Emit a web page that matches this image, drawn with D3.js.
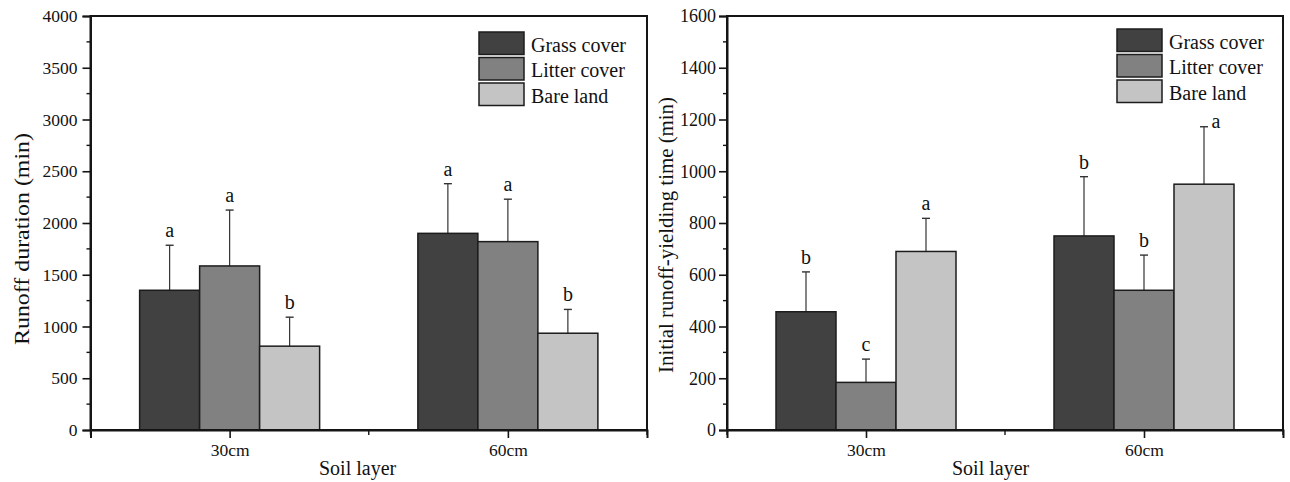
<!DOCTYPE html>
<html>
<head>
<meta charset="utf-8">
<script src="https://cdn.jsdelivr.net/npm/d3@7"></script>
<style>
  html, body { margin: 0; padding: 0; background: #fff; }
  svg { display: block; }
  text { font-family: "Liberation Serif", "Times New Roman", serif; fill: #111; }
</style>
</head>
<body>
<svg id="chart" width="1290" height="482"></svg>
<script>
// ---------------- data ----------------
const categories = ["30cm", "60cm"];
const seriesNames = ["Grass cover", "Litter cover", "Bare land"];
const seriesColors = ["#414141", "#818181", "#c4c4c4"];

// Runoff duration (min): per series, per soil layer
const durationMeans = [[1350, 1900], [1585, 1820], [810, 935]];
const durationErr   = [[435, 480],   [540, 410],   [280, 230]];
const durationLetters = [["a", "a"], ["a", "a"], ["b", "b"]];
const durationTicks = [0, 500, 1000, 1500, 2000, 2500, 3000, 3500, 4000];

// Initial runoff-yielding time (min)
const initMeans = [[457, 750], [184, 540], [690, 950]];
const initErr   = [[154, 229], [90, 136],  [128, 222]];
const initLetters = [["b", "b"], ["c", "b"], ["a", "a"]];
const initTicks = [0, 200, 400, 600, 800, 1000, 1200, 1400, 1600];

// ---------------- layout ----------------
const svg = d3.select("#chart");
const panels = [
  { x0: 90.5, x1: 647, y0: 16, y1: 430, ymax: 4000, ticks: durationTicks, minorStep: 250,
    means: durationMeans, errs: durationErr, letters: durationLetters,
    yTitle: "Runoff duration (min)", yTitleX: 29, yTitleY: 239, yTitleLen: 212,
    tickFont: 17.5, tickDx: 11,
    legendX: 479, legendY: 32, xTitleX: 319 },
  { x0: 727, x1: 1283, y0: 16, y1: 430, ymax: 1600, ticks: initTicks, minorStep: 100,
    means: initMeans, errs: initErr, letters: initLetters,
    yTitle: "Initial runoff-yielding time (min)", yTitleX: 673, yTitleY: 235, yTitleLen: 276,
    tickFont: 18, tickDx: 9,
    legendX: 1117, legendY: 29, xTitleX: 952 }
];

const axisColor = "#151515";
const barW = 60;

panels.forEach((p, pi) => {
  const g = svg.append("g");
  const x = d3.scaleLinear().domain([0.5, 2.5]).range([p.x0, p.x1]);
  const y = d3.scaleLinear().domain([0, p.ymax]).range([p.y1, p.y0]);

  // bars
  seriesNames.forEach((s, j) => {
    categories.forEach((c, i) => {
      const cx = x(i + 1);
      const left = cx + (j - 1.5) * barW;
      const v = p.means[j][i];
      const top = p.means[j][i] + p.errs[j][i];
      const bx = left + barW / 2;
      // error bar (upper)
      g.append("line").attr("x1", bx).attr("x2", bx)
        .attr("y1", y(v)).attr("y2", y(top))
        .attr("stroke", "#333").attr("stroke-width", 1.2);
      g.append("line").attr("x1", bx - 4).attr("x2", bx + 4)
        .attr("y1", y(top)).attr("y2", y(top))
        .attr("stroke", "#333").attr("stroke-width", 1.4);
      g.append("rect")
        .attr("x", left).attr("y", y(v))
        .attr("width", barW).attr("height", y(0) - y(v))
        .attr("fill", seriesColors[j])
        .attr("stroke", "#1c1c1c").attr("stroke-width", 1.5);
      // significance letter
      let lx = bx, ly = y(top) - 8;
      // the last letter of the right panel sits beside its cap (legend above)
      if (pi === 1 && j === 2 && i === 1) { lx = bx + 12; ly = y(top) + 1; }
      g.append("text").attr("x", lx).attr("y", ly)
        .attr("text-anchor", "middle").attr("font-size", 20)
        .text(p.letters[j][i]);
    });
  });

  // frame
  g.append("rect").attr("x", p.x0).attr("y", p.y0)
    .attr("width", p.x1 - p.x0).attr("height", p.y1 - p.y0)
    .attr("fill", "none").attr("stroke", axisColor).attr("stroke-width", 2);

  // y axis
  const yAxis = d3.axisLeft(y).tickValues(p.ticks).tickSize(8).tickPadding(p.tickDx - 8 + 2)
    .tickFormat(d3.format("d"));
  const ya = g.append("g").attr("transform", `translate(${p.x0},0)`).call(yAxis);
  ya.select(".domain").attr("stroke", axisColor).attr("stroke-width", 2);
  ya.selectAll(".tick line").attr("stroke", axisColor).attr("stroke-width", 1.6);
  ya.selectAll(".tick text").attr("font-size", p.tickFont)
    .attr("font-family", "Liberation Serif").attr("fill", "#111");
  // y minor ticks
  const minor = d3.range(p.minorStep, p.ymax, p.minorStep * 2);
  g.selectAll(null).data(minor).enter().append("line")
    .attr("x1", p.x0 - 4).attr("x2", p.x0)
    .attr("y1", d => y(d)).attr("y2", d => y(d))
    .attr("stroke", axisColor).attr("stroke-width", 1.4);

  // x axis
  const xAxis = d3.axisBottom(x).tickValues([1, 2]).tickSize(8).tickPadding(6)
    .tickFormat(d => categories[d - 1]);
  const xa = g.append("g").attr("transform", `translate(0,${p.y1})`).call(xAxis);
  xa.select(".domain").attr("stroke", axisColor).attr("stroke-width", 2);
  xa.selectAll(".tick line").attr("stroke", axisColor).attr("stroke-width", 1.6);
  xa.selectAll(".tick text").attr("font-size", 17.5)
    .attr("font-family", "Liberation Serif").attr("fill", "#111");
  g.selectAll(null).data([0.5, 1.5, 2.5]).enter().append("line")
    .attr("x1", d => x(d)).attr("x2", d => x(d))
    .attr("y1", p.y1).attr("y2", p.y1 + 5)
    .attr("stroke", axisColor).attr("stroke-width", 1.4);

  // axis titles
  g.append("text").attr("x", p.xTitleX).attr("y", 475)
    .attr("font-size", 20).text("Soil layer");
  g.append("text")
    .attr("transform", `translate(${p.yTitleX},${p.yTitleY}) rotate(-90)`)
    .attr("text-anchor", "middle").attr("font-size", 21)
    .attr("textLength", p.yTitleLen).attr("lengthAdjust", "spacingAndGlyphs")
    .text(p.yTitle);

  // legend
  seriesNames.forEach((s, j) => {
    const ry = p.legendY + j * 25.5;
    g.append("rect").attr("x", p.legendX).attr("y", ry)
      .attr("width", 45).attr("height", 22.5)
      .attr("fill", seriesColors[j]).attr("stroke", "#1c1c1c").attr("stroke-width", 1.5);
    g.append("text").attr("x", p.legendX + 52).attr("y", ry + 19.5)
      .attr("font-size", 20).text(s);
  });
});
</script>
</body>
</html>
